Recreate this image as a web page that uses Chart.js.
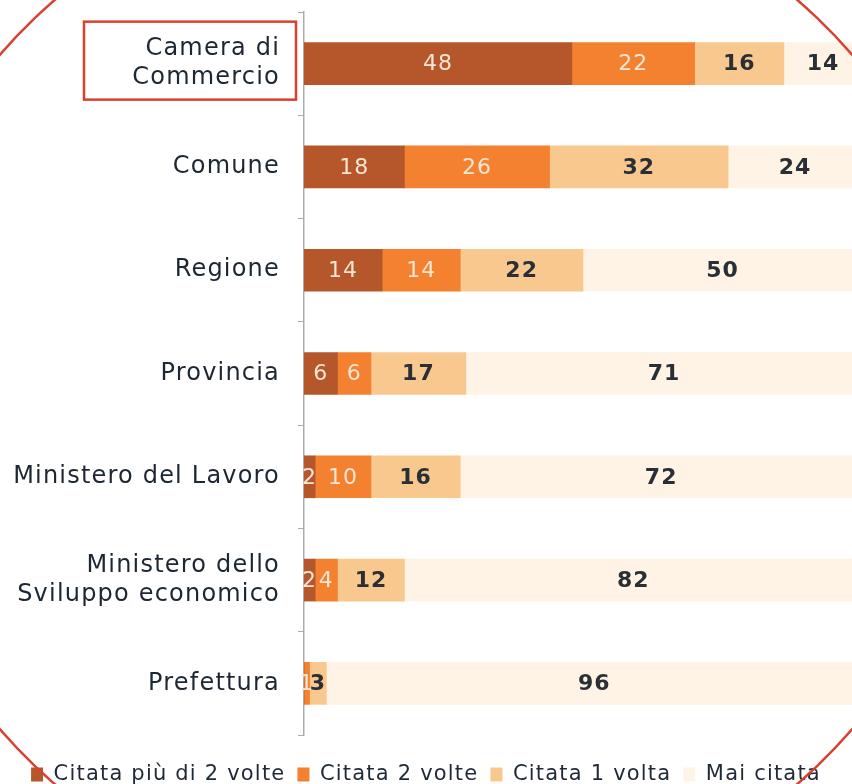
<!DOCTYPE html>
<html>
<head>
<meta charset="utf-8">
<script src="https://cdn.jsdelivr.net/npm/chart.js@4"></script>
<style>
  html, body { margin: 0; padding: 0; background: #fff; overflow: hidden; width: 852px; height: 784px; }
  canvas { display: block; }
</style>
</head>
<body>
<canvas id="grafico" width="852" height="795"></canvas>
<script>
const categorie = [['Camera di', 'Commercio'], 'Comune', 'Regione', 'Provincia', 'Ministero del Lavoro', ['Ministero dello', 'Sviluppo economico'], 'Prefettura'];
const serie = ['Citata più di 2 volte', 'Citata 2 volte', 'Citata 1 volta', 'Mai citata'];
const piuDi2 = [48, 18, 14, 6, 2, 2, 0];
const dueVolte = [22, 26, 14, 6, 10, 4, 1];
const unaVolta = [16, 32, 22, 17, 16, 12, 3];
const maiCitata = [14, 24, 50, 71, 72, 82, 96];

const colori = ['#b5562b', '#f3812f', '#f9c88e', '#fef3e4'];
const testoChiaro = '#f7e6d4';
const testoScuro = '#2a2f35';

// spaziatura lettere (il testo originale e' piu' largo di DejaVu)
const spaziatura = {
  id: 'spaziatura',
  beforeUpdate(chart) { chart.ctx.letterSpacing = '1.2px'; },
  beforeDraw(chart) { chart.ctx.letterSpacing = '1.2px'; }
};

// etichette dei valori dentro le barre
const etichette = {
  id: 'etichette',
  afterDatasetsDraw(chart) {
    const ctx = chart.ctx;
    ctx.save();
    ctx.letterSpacing = '1px';
    ctx.textAlign = 'center';
    ctx.textBaseline = 'middle';
    chart.data.datasets.forEach((ds, i) => {
      const meta = chart.getDatasetMeta(i);
      meta.data.forEach((bar, j) => {
        const v = ds.data[j];
        if (!v) return;
        const chiaro = i < 2;
        ctx.font = (chiaro ? '' : 'bold ') + '22px "DejaVu Sans"';
        ctx.fillStyle = chiaro ? testoChiaro : testoScuro;
        ctx.fillText(String(v), (bar.x + bar.base) / 2, bar.y + 1);
      });
    });
    ctx.restore();
  }
};

// riquadro rosso e ovale rosso
const evidenza = {
  id: 'evidenza',
  afterDraw(chart) {
    const ctx = chart.ctx;
    const y0 = chart.scales.y.getPixelForValue(0);
    ctx.save();
    ctx.strokeStyle = '#d8412f';
    ctx.lineWidth = 2.5;
    ctx.strokeRect(84, y0 - 42, 212, 78);
    ctx.beginPath();
    ctx.ellipse(426, 392, 553, 529, 0, 0, Math.PI * 2);
    ctx.stroke();
    ctx.restore();
  }
};

const datasets = [piuDi2, dueVolte, unaVolta, maiCitata].map((valori, i) => ({
  label: serie[i],
  data: valori,
  backgroundColor: colori[i],
  borderWidth: 0,
  barThickness: 42
}));

new Chart(document.getElementById('grafico'), {
  type: 'bar',
  data: { labels: categorie, datasets: datasets },
  options: {
    indexAxis: 'y',
    responsive: false,
    animation: false,
    layout: { padding: { top: 12, right: 0, left: 0, bottom: 0 } },
    plugins: {
      tooltip: { enabled: false },
      legend: {
        position: 'bottom',
        labels: {
          font: { family: 'DejaVu Sans', size: 21 },
          color: '#1f2a36',
          boxWidth: 12,
          boxHeight: 14,
          padding: 12
        }
      }
    },
    scales: {
      x: {
        stacked: true,
        min: 0,
        max: 98.2,
        ticks: { display: false },
        grid: { display: false },
        border: { display: false },
        afterFit(scale) { scale.height = 17; }
      },
      y: {
        stacked: true,
        ticks: {
          font: { family: 'DejaVu Sans', size: 24 },
          color: '#1c2733',
          padding: 18
        },
        grid: {
          drawOnChartArea: false,
          drawTicks: true,
          tickLength: 6,
          color: '#a9adb2'
        },
        border: { display: true, color: '#a9adb2', width: 1.5 },
        afterFit(scale) {
          scale.width = 304;
          scale.paddingTop = 0;
          scale.paddingBottom = 0;
        }
      }
    }
  },
  plugins: [spaziatura, etichette, evidenza]
});
</script>
</body>
</html>
